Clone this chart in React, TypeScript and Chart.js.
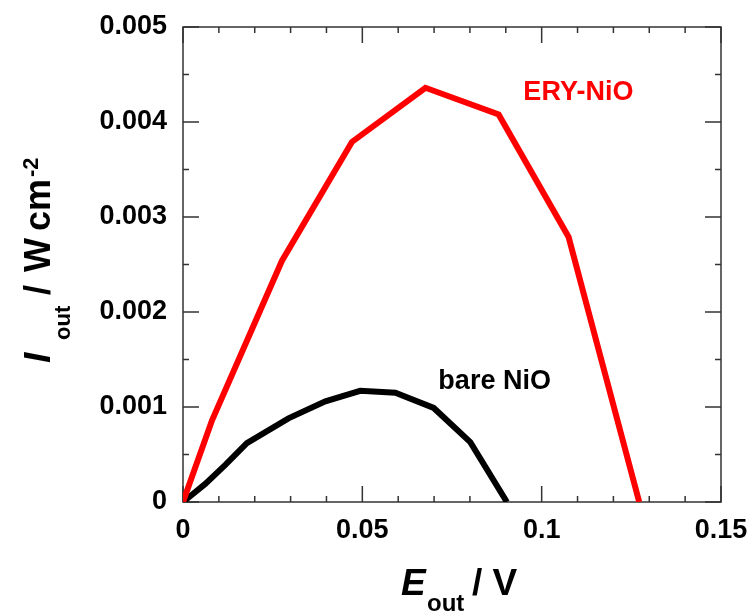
import React, { useEffect, useRef } from "react";
import { Chart, registerables } from "chart.js";

Chart.register(...registerables);

// ---- data ----
const eryE = [0, 0.0081, 0.0276, 0.0471, 0.0676, 0.088, 0.1075, 0.1272];
const eryP = [0, 0.00086, 0.00254, 0.00379, 0.00436, 0.00408, 0.00279, 0];
const bareE = [0, 0.0062, 0.0118, 0.0178, 0.0294, 0.0397, 0.0494, 0.0592, 0.0699, 0.0801, 0.0903];
const bareP = [0, 0.00019, 0.00039, 0.00062, 0.00088, 0.00106, 0.00117, 0.00115, 0.00099, 0.00063, 0];

const xTicks = [0, 0.05, 0.1, 0.15];
const xTickLabels = ["0", "0.05", "0.1", "0.15"];
const yTicks = [0, 0.001, 0.002, 0.003, 0.004, 0.005];
const yTickLabels = ["0", "0.001", "0.002", "0.003", "0.004", "0.005"];
const xMinorTicks = [0.01, 0.02, 0.03, 0.04, 0.06, 0.07, 0.08, 0.09, 0.11, 0.12, 0.13, 0.14];
const yMinorTicks = [0.0005, 0.0015, 0.0025, 0.0035, 0.0045];

const seriesNames = ["ERY-NiO", "bare NiO"];
const seriesColors = ["#ff0000", "#000000"];
// label anchors (data coordinates)
const eryLabelAt = [0.0949, 0.00423];
const bareLabelAt = [0.0712, 0.001186];

const FONT = "'Liberation Sans', Arial, sans-serif";

const framePlugin = {
  id: "frame",
  beforeDatasetsDraw(chart: any) {
    const { ctx, chartArea: a, scales } = chart;
    const x = scales.x;
    const y = scales.y;
    ctx.save();
    ctx.strokeStyle = "#333";
    ctx.lineWidth = 1.5;
    ctx.strokeRect(a.left, a.top, a.right - a.left, a.bottom - a.top);
    const major = 16;
    const minor = 6;
    const drawX = (v: number, len: number) => {
      const px = x.getPixelForValue(v);
      ctx.beginPath();
      ctx.moveTo(px, a.bottom);
      ctx.lineTo(px, a.bottom - len);
      ctx.moveTo(px, a.top);
      ctx.lineTo(px, a.top + len);
      ctx.stroke();
    };
    const drawY = (v: number, len: number) => {
      const py = y.getPixelForValue(v);
      ctx.beginPath();
      ctx.moveTo(a.left, py);
      ctx.lineTo(a.left + len, py);
      ctx.moveTo(a.right, py);
      ctx.lineTo(a.right - len, py);
      ctx.stroke();
    };
    xTicks.forEach((v) => drawX(v, major));
    xMinorTicks.forEach((v) => drawX(v, minor));
    yTicks.forEach((v) => drawY(v, major));
    yMinorTicks.forEach((v) => drawY(v, minor));
    ctx.restore();
  },
  afterDraw(chart: any) {
    const { ctx, scales } = chart;
    const x = scales.x;
    const y = scales.y;
    ctx.save();
    ctx.textBaseline = "alphabetic";
    ctx.textAlign = "left";

    // series labels
    ctx.font = `bold 27px ${FONT}`;
    ctx.fillStyle = seriesColors[0];
    ctx.fillText(seriesNames[0], x.getPixelForValue(eryLabelAt[0]), y.getPixelForValue(eryLabelAt[1]));
    ctx.fillStyle = seriesColors[1];
    ctx.fillText(seriesNames[1], x.getPixelForValue(bareLabelAt[0]), y.getPixelForValue(bareLabelAt[1]));

    // x axis title
    ctx.fillStyle = "#000";
    ctx.font = `italic bold 37px ${FONT}`;
    ctx.fillText("E", 401, 595);
    ctx.font = `bold 24px ${FONT}`;
    ctx.fillText("out", 427, 611);
    ctx.font = `bold 37px ${FONT}`;
    ctx.fillText("/ V", 472, 595);

    // y axis title (rotated)
    ctx.translate(50, 362);
    ctx.rotate(-Math.PI / 2);
    ctx.font = `italic bold 37px ${FONT}`;
    ctx.fillText("I", -1, 0);
    ctx.font = `bold 22px ${FONT}`;
    ctx.fillText("out", 22, 20);
    ctx.font = `bold 36px ${FONT}`;
    ctx.fillText("/", 67, 0);
    ctx.fillText("W", 90, 0);
    ctx.fillText("cm", 131, 0);
    ctx.font = `bold 22px ${FONT}`;
    ctx.fillText("-2", 185, -12);
    ctx.restore();
  },
};

export default function App() {
  const ref = useRef<HTMLCanvasElement | null>(null);
  useEffect(() => {
    document.body.style.margin = "0";
    const canvas = ref.current;
    if (!canvas) return;
    const tickFont = { family: FONT, weight: "bold" as const, size: 27 };
    const chart = new Chart(canvas, {
      type: "scatter",
      data: {
        datasets: [
          {
            label: seriesNames[0],
            data: eryE.map((e, i) => ({ x: e, y: eryP[i] })),
            borderColor: seriesColors[0],
            backgroundColor: seriesColors[0],
            borderWidth: 6,
            showLine: true,
            pointRadius: 0,
            tension: 0,
          },
          {
            label: seriesNames[1],
            data: bareE.map((e, i) => ({ x: e, y: bareP[i] })),
            borderColor: seriesColors[1],
            backgroundColor: seriesColors[1],
            borderWidth: 6,
            showLine: true,
            pointRadius: 0,
            tension: 0,
          },
        ],
      },
      options: {
        responsive: false,
        animation: false,
        layout: { padding: { top: 27, right: 29, left: 0, bottom: 0 } },
        plugins: { legend: { display: false }, tooltip: { enabled: false } },
        scales: {
          x: {
            type: "linear",
            min: 0,
            max: 0.15,
            grid: { display: false },
            border: { display: false },
            afterBuildTicks: (s: any) => {
              s.ticks = xTicks.map((v) => ({ value: v }));
            },
            afterFit: (s: any) => {
              s.height = 110;
              s.paddingLeft = 0;
              s.paddingRight = 0;
            },
            ticks: {
              font: tickFont,
              color: "#000",
              padding: 4,
              maxRotation: 0,
              autoSkip: false,
              callback: (v: any) => {
                const i = xTicks.findIndex((t) => Math.abs(t - Number(v)) < 1e-9);
                return i >= 0 ? xTickLabels[i] : "";
              },
            },
          },
          y: {
            type: "linear",
            min: 0,
            max: 0.005,
            grid: { display: false },
            border: { display: false },
            afterBuildTicks: (s: any) => {
              s.ticks = yTicks.map((v) => ({ value: v }));
            },
            afterFit: (s: any) => {
              s.width = 183;
              s.paddingTop = 0;
              s.paddingBottom = 0;
            },
            ticks: {
              font: tickFont,
              color: "#000",
              padding: 8,
              autoSkip: false,
              callback: (v: any) => {
                const i = yTicks.findIndex((t) => Math.abs(t - Number(v)) < 1e-12);
                return i >= 0 ? yTickLabels[i] : "";
              },
            },
          },
        },
      },
      plugins: [framePlugin],
    } as any);
    return () => chart.destroy();
  }, []);
  return (
    <div style={{ width: 750, height: 612, background: "#fff" }}>
      <canvas ref={ref} width={750} height={612} style={{ display: "block" }} />
    </div>
  );
}
